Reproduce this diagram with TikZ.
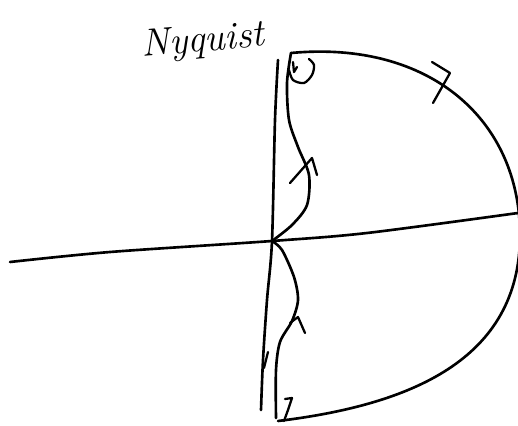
\documentclass[tikz,border=0pt]{standalone}
\usepackage{tikz}
\usetikzlibrary{arrows.meta}

\begin{document}
\begin{tikzpicture}[>=Latex,x=0.02cm,y=-0.02cm,line cap=round,line join=round,
  pen/.style={line width=1.5pt},
  tick/.style={line width=1.3pt}]
\clip (0,0) rectangle (518,426);
\coordinate (o) at (272,241);
% axes
\draw[pen] plot[smooth] coordinates {(10,262) (110,252) (o) (367,233) (518,213)};
\draw[pen] plot[smooth] coordinates {(278,60) (275,120) (o) (267,300) (263,360) (261,410)};
\draw[tick] (268,352) -- (264,368);
% contour, lower branch
\draw[pen] plot[smooth] coordinates {(276,418) (276,370) (280,342) (292,321) (298,300) (294,277) (282,250) (o)};
% upper branch
\draw[pen] plot[smooth] coordinates {(o) (292,225) (307,205) (309,175) (298,147) (289,120) (287,83) (291,53)};
% big arc
\draw[pen] (291,53) .. controls (430,40) and (520,120) .. (520,235)
  .. controls (520,360) and (410,405) .. (278,421);
% little turns
\draw[tick] plot[smooth] coordinates {(289,70) (293,80) (304,83) (312,75) (314,65) (309,59)};
\draw[tick] (293,62) -- (294,72) -- (297,67);
\draw[tick] (285,399) -- (292,398) -- (288,410) -- (284,421);
% direction marks
\draw[tick] (290,183) -- (312,158) -- (317,175);
\draw[tick] (290,323) -- (298,317) -- (305,333);
\draw[tick] (432,62) -- (450,73) -- (433,103);
\node[font=\itshape\fontsize{22}{26}\selectfont,rotate=5] (ny) at (203,42) {Nyquist};
\end{tikzpicture}
\end{document}
